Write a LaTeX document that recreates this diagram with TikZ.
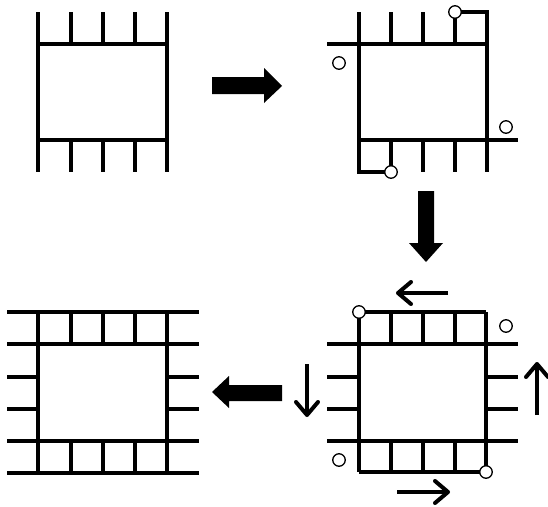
\documentclass[tikz,border=0pt]{standalone}
\usepackage{tikz}
\usetikzlibrary{arrows.meta}

\begin{document}
\begin{tikzpicture}[x=1pt, y=-1pt, line width=3.2pt,
                    pin node/.style={circle,draw,fill=white,line width=1.3pt,inner sep=0pt,minimum size=12.5pt},
                    big arrow/.style={fill=black,draw=none},
                    turn arrow/.style={line width=4pt,-{Straight Barb[length=13pt,width=22pt,round]}}]

   \useasboundingbox (0,0) rectangle (548,506);

   % first chip
   \draw (38,12) -- (38,172);
   \draw (167,12) -- (167,172);
   \draw (38,44) -- (167,44);
   \draw (38,140) -- (167,140);
   \draw (71,12) -- (71,44)  (103,12) -- (103,44)  (135,12) -- (135,44);
   \draw (71,140) -- (71,172)  (103,140) -- (103,172)  (135,140) -- (135,172);

   \draw[big arrow] (212,77) -- (264,77) -- (264,68) -- (282,86) -- (264,103) -- (264,94) -- (212,94) -- cycle;

   % second chip
   \draw (327,44) -- (487,44);
   \draw (359,140) -- (518,140);
   \draw[line join=miter] (359,12) -- (359,172) -- (391,172);
   \draw[line join=miter] (455,44) -- (455,12) -- (487,12) -- (487,172);
   \draw (391,12) -- (391,44)  (423,12) -- (423,44);
   \draw (391,140) -- (391,172)  (423,140) -- (423,172)  (455,140) -- (455,172);
   \node[pin node] (b1) at (455,12) {};
   \node[pin node] (b2) at (391,172) {};
   \node[pin node] (b3) at (339,63) {};
   \node[pin node] (b4) at (506,127) {};

   \draw[big arrow] (418,191) -- (434,191) -- (434,243) -- (443,243) -- (426,262) -- (409,243) -- (418,243) -- cycle;

   % third chip
   \draw (359,312) -- (486,312);
   \draw (359,472) -- (486,472);
   \draw (327,344) -- (518,344);
   \draw (327,441) -- (518,441);
   \draw (327,377) -- (359,377)  (327,409) -- (359,409);
   \draw (486,377) -- (518,377)  (486,409) -- (518,409);
   \draw (359,312) -- (359,472);
   \draw (486,312) -- (486,472);
   \draw (391,312) -- (391,344)  (423,312) -- (423,344)  (455,312) -- (455,344);
   \draw (391,441) -- (391,472)  (423,441) -- (423,472)  (455,441) -- (455,472);
   \node[pin node] (c1) at (359,312) {};
   \node[pin node] (c2) at (486,472) {};
   \node[pin node] (c3) at (506,326) {};
   \node[pin node] (c4) at (339,460) {};

   \draw[turn arrow] (448,293) -- (396,293);
   \draw[turn arrow] (397,492) -- (450,492);
   \draw[turn arrow] (307,364) -- (307,417);
   \draw[turn arrow] (537,415) -- (537,362);

   \draw[big arrow] (282,385) -- (229,385) -- (229,376) -- (212,392) -- (229,408) -- (229,401) -- (282,401) -- cycle;

   % fourth chip
   \draw (7,312) -- (199,312);
   \draw (7,344) -- (199,344);
   \draw (7,441) -- (199,441);
   \draw (7,473) -- (199,473);
   \draw (7,377) -- (38,377)  (7,409) -- (38,409);
   \draw (167,377) -- (199,377)  (167,409) -- (199,409);
   \draw (38,312) -- (38,473);
   \draw (167,312) -- (167,473);
   \draw (71,312) -- (71,344)  (103,312) -- (103,344)  (135,312) -- (135,344);
   \draw (71,441) -- (71,473)  (103,441) -- (103,473)  (135,441) -- (135,473);

\end{tikzpicture}
\end{document}
